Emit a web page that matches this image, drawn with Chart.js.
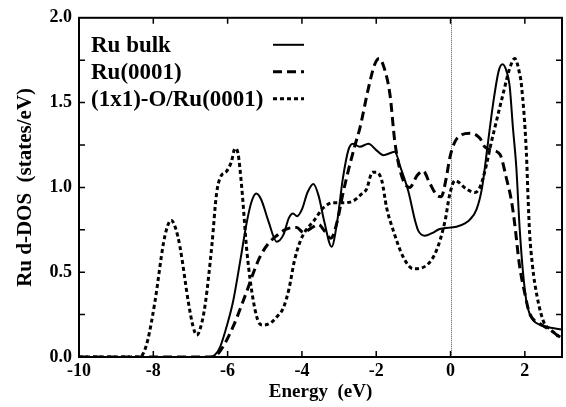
<!DOCTYPE html>
<html>
<head>
<meta charset="utf-8">
<script src="https://cdn.jsdelivr.net/npm/chart.js@4.4.0/dist/chart.umd.min.js"></script>
<style>
  html, body { margin: 0; padding: 0; background: #fff; }
  canvas { display: block; }
</style>
</head>
<body>
<canvas id="dos" width="566" height="407"></canvas>
<script>
// series names, as in the legend
const seriesLabels = ['Ru bulk', 'Ru(0001)', '(1x1)-O/Ru(0001)'];

// Ru bulk (solid)
const bulkEnergy = [-10, -6.5, -6.35, -6.2, -6.0, -5.85, -5.65, -5.48, -5.35, -5.23, -5.1, -4.9, -4.68, -4.5, -4.35, -4.24, -4.13, -4.0, -3.85, -3.69, -3.55, -3.4, -3.2, -3.05, -2.9, -2.75, -2.63, -2.44, -2.21, -2.0, -1.81, -1.5, -1.35, -1.14, -0.95, -0.87, -0.69, -0.5, -0.29, 0.16, 0.4, 0.52, 0.7, 0.85, 1.0, 1.15, 1.3, 1.4, 1.5, 1.59, 1.68, 1.77, 1.86, 1.95, 2.04, 2.12, 2.22, 2.4, 2.58, 3.0];
const bulkDos = [0, 0, 0.01, 0.06, 0.2, 0.33, 0.58, 0.8, 0.92, 0.964, 0.93, 0.8, 0.68, 0.72, 0.82, 0.846, 0.83, 0.87, 0.97, 1.02, 0.95, 0.8, 0.65, 0.8, 1.05, 1.22, 1.257, 1.24, 1.257, 1.22, 1.19, 1.21, 1.12, 0.98, 0.8, 0.745, 0.715, 0.73, 0.755, 0.768, 0.79, 0.81, 0.87, 1.0, 1.25, 1.5, 1.69, 1.726, 1.69, 1.6, 1.35, 1.12, 0.76, 0.5, 0.33, 0.26, 0.217, 0.19, 0.178, 0.162];

// Ru(0001) surface (dashed)
const surfEnergy = [-10, -6.45, -6.3, -6.1, -5.85, -5.65, -5.48, -5.3, -5.13, -4.9, -4.68, -4.5, -4.3, -4.14, -3.96, -3.75, -3.55, -3.38, -3.22, -3.05, -2.9, -2.75, -2.57, -2.44, -2.21, -2.05, -1.92, -1.78, -1.63, -1.5, -1.38, -1.25, -1.1, -0.9, -0.74, -0.55, -0.35, -0.25, -0.12, -0.02, 0.12, 0.3, 0.52, 0.79, 0.92, 1.1, 1.33, 1.5, 1.64, 1.73, 1.85, 2.0, 2.13, 2.4, 2.76, 3.0];
const surfDos = [0, 0, 0.01, 0.07, 0.18, 0.29, 0.39, 0.5, 0.59, 0.67, 0.715, 0.745, 0.762, 0.764, 0.735, 0.76, 0.78, 0.74, 0.7, 0.8, 0.96, 1.1, 1.25, 1.35, 1.585, 1.72, 1.76, 1.7, 1.547, 1.27, 1.12, 1.03, 1.0, 1.07, 1.097, 1.02, 0.95, 0.945, 1.05, 1.175, 1.27, 1.31, 1.32, 1.29, 1.24, 1.22, 1.195, 1.057, 0.92, 0.78, 0.55, 0.374, 0.256, 0.198, 0.148, 0.1];

// (1x1)-O/Ru(0001) (dotted)
const oxEnergy = [-10, -8.4, -8.3, -8.15, -7.95, -7.73, -7.62, -7.52, -7.4, -7.28, -7.05, -6.93, -6.83, -6.72, -6.6, -6.42, -6.3, -6.2, -6.02, -5.9, -5.8, -5.72, -5.62, -5.48, -5.31, -5.15, -5.04, -4.85, -4.68, -4.5, -4.35, -4.2, -4.05, -3.9, -3.69, -3.42, -3.16, -2.89, -2.62, -2.4, -2.26, -2.1, -2.0, -1.85, -1.72, -1.54, -1.27, -1.0, -0.65, -0.38, -0.15, -0.02, 0.12, 0.43, 0.65, 0.79, 0.97, 1.06, 1.19, 1.41, 1.59, 1.73, 1.85, 1.91, 2.04, 2.09, 2.13, 2.2, 2.27, 2.49, 2.7, 2.94, 3.0];
const oxDos = [0, 0, 0.01, 0.1, 0.334, 0.667, 0.77, 0.807, 0.76, 0.647, 0.315, 0.18, 0.129, 0.18, 0.315, 0.667, 0.96, 1.057, 1.097, 1.15, 1.23, 1.2, 1.0, 0.62, 0.334, 0.2, 0.188, 0.2, 0.236, 0.29, 0.4, 0.57, 0.68, 0.745, 0.8, 0.88, 0.91, 0.91, 0.92, 0.96, 0.99, 1.09, 1.09, 1.04, 0.88, 0.745, 0.588, 0.52, 0.54, 0.628, 0.8, 0.96, 1.04, 0.99, 0.97, 1.0, 1.136, 1.23, 1.35, 1.547, 1.7, 1.76, 1.68, 1.6, 1.21, 0.92, 0.725, 0.55, 0.43, 0.217, 0.16, 0.119, 0.11];

// axis ranges and labelled ticks
const xMin = -10, xMax = 3, xStep = 2;
const yMin = 0, yMax = 2, yStep = 0.25, yLabelStep = 0.5;

const toPoints = (xs, ys) => xs.map((x, i) => ({ x: x, y: ys[i] }));
const serif = '"Liberation Serif", "Times New Roman", serif';

const frameAndLegend = {
  id: 'frameAndLegend',
  beforeDatasetsDraw(chart) {
    const { ctx, chartArea, scales } = chart;
    const x0 = Math.round(scales.x.getPixelForValue(0)) + 0.5;
    ctx.save();
    ctx.strokeStyle = '#555';
    ctx.lineWidth = 1;
    ctx.setLineDash([1, 1]);
    ctx.beginPath();
    ctx.moveTo(x0, chartArea.top);
    ctx.lineTo(x0, chartArea.bottom);
    ctx.stroke();
    ctx.restore();
  },
  afterDraw(chart) {
    const { ctx, chartArea: a, scales } = chart;
    ctx.save();
    ctx.strokeStyle = '#000';
    ctx.setLineDash([]);
    // inward tick marks
    ctx.lineWidth = 1.5;
    const len = 6;
    ctx.beginPath();
    scales.x.ticks.forEach(t => {
      const px = scales.x.getPixelForValue(t.value);
      if (px <= a.left + 1 || px >= a.right - 1) return;
      ctx.moveTo(px, a.bottom); ctx.lineTo(px, a.bottom - len);
      ctx.moveTo(px, a.top); ctx.lineTo(px, a.top + len);
    });
    scales.y.ticks.forEach(t => {
      const py = scales.y.getPixelForValue(t.value);
      if (py <= a.top + 1 || py >= a.bottom - 1) return;
      ctx.moveTo(a.left, py); ctx.lineTo(a.left + len, py);
      ctx.moveTo(a.right, py); ctx.lineTo(a.right - len, py);
    });
    ctx.stroke();
    // frame
    ctx.lineWidth = 2;
    ctx.strokeRect(a.left, a.top, a.right - a.left, a.bottom - a.top);
    // legend: text on the left, line sample on the right
    ctx.font = 'bold 23px ' + serif;
    ctx.fillStyle = '#000';
    ctx.textBaseline = 'alphabetic';
    chart.data.datasets.forEach((ds, i) => {
      const base = a.top + 34 + i * 27;
      ctx.fillText(ds.label, a.left + 12, base);
      ctx.lineWidth = ds.borderWidth;
      ctx.setLineDash(ds.borderDash || []);
      ctx.beginPath();
      ctx.moveTo(a.left + 194, base - 7);
      ctx.lineTo(a.left + 225, base - 7);
      ctx.stroke();
    });
    ctx.restore();
  }
};

new Chart(document.getElementById('dos'), {
  type: 'line',
  data: {
    datasets: [
      {
        label: seriesLabels[0],
        data: toPoints(bulkEnergy, bulkDos),
        borderColor: '#000',
        borderWidth: 2,
        borderDash: [],
      },
      {
        label: seriesLabels[1],
        data: toPoints(surfEnergy, surfDos),
        borderColor: '#000',
        borderWidth: 3,
        borderDash: [9, 5],
      },
      {
        label: seriesLabels[2],
        data: toPoints(oxEnergy, oxDos),
        borderColor: '#000',
        borderWidth: 3,
        borderDash: [4, 3],
      },
    ],
  },
  options: {
    responsive: false,
    animation: false,
    layout: { padding: { top: 16, right: 4, left: 0, bottom: 0 } },
    elements: {
      point: { radius: 0 },
      line: { cubicInterpolationMode: 'monotone', fill: false },
    },
    plugins: {
      legend: { display: false },
      tooltip: { enabled: false },
    },
    scales: {
      x: {
        type: 'linear',
        min: xMin,
        max: xMax,
        grid: { display: false, drawTicks: false },
        border: { display: false },
        ticks: {
          stepSize: xStep,
          includeBounds: false,
          autoSkip: false,
          maxRotation: 0,
          padding: 4,
          color: '#000',
          font: { family: serif, size: 18, weight: 'bold' },
        },
        title: {
          display: true,
          text: 'Energy  (eV)',
          color: '#000',
          font: { family: serif, size: 19, weight: 'bold', lineHeight: 1.2 },
          padding: { top: 0, bottom: 4 },
        },
        afterFit(scale) { scale.height = 50; },
      },
      y: {
        min: yMin,
        max: yMax,
        grid: { display: false, drawTicks: false },
        border: { display: false },
        ticks: {
          stepSize: yStep,
          autoSkip: false,
          padding: 7,
          color: '#000',
          font: { family: serif, size: 18, weight: 'bold' },
          callback: v => (Math.abs(v / yLabelStep - Math.round(v / yLabelStep)) < 1e-6 ? v.toFixed(1) : ''),
        },
        title: {
          display: true,
          text: 'Ru d-DOS  (states/eV)',
          color: '#000',
          font: { family: serif, size: 21, weight: 'bold', lineHeight: 1.2 },
          padding: { top: 13, bottom: 0 },
        },
        afterFit(scale) { scale.width = 79; },
      },
    },
  },
  plugins: [frameAndLegend],
});
</script>
</body>
</html>
